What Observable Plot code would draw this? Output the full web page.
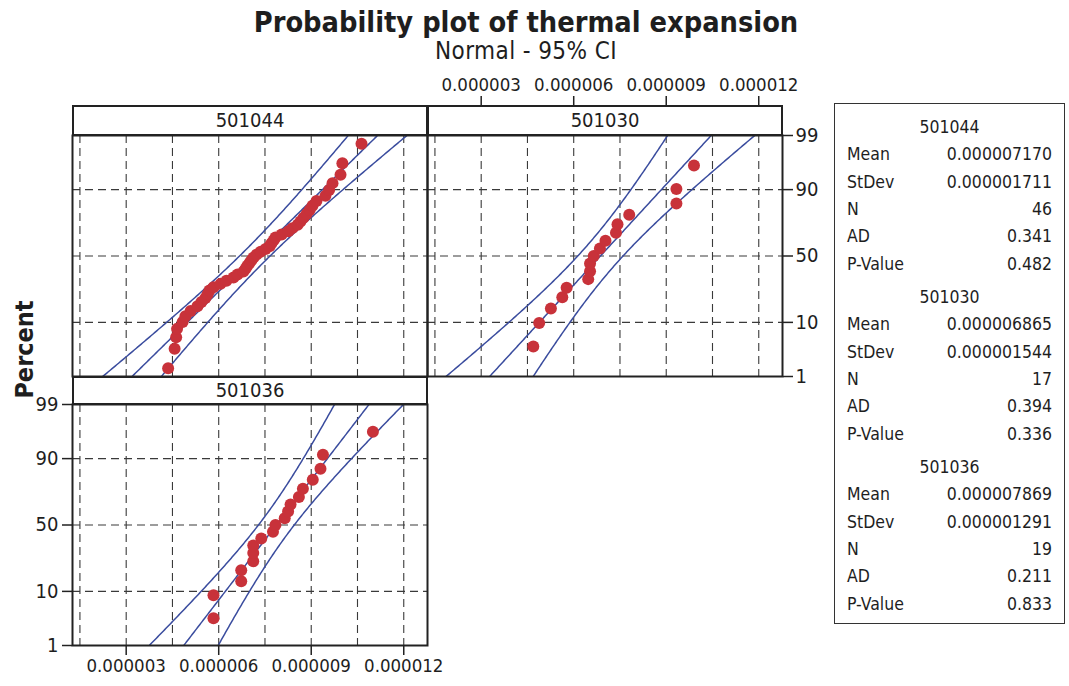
<!DOCTYPE html>
<html>
<head>
<meta charset="utf-8">
<script src="https://cdn.jsdelivr.net/npm/d3@7"></script>
<script src="https://cdn.jsdelivr.net/npm/@observablehq/plot@0.6"></script>
<style>
  body { margin: 0; background: #fff; }
  #chart {
    position: relative; width: 1069px; height: 686px; overflow: hidden;
    font-family: "DejaVu Sans Condensed", "DejaVu Sans", sans-serif;
    font-stretch: condensed; color: #1e1e1e;
  }
  #chart svg { position: absolute; overflow: visible; }
  .title { position: absolute; left: 0; width: 1052px; text-align: center; white-space: nowrap; }
  .strip {
    position: absolute; box-sizing: border-box; border: 2px solid #222; background: #fff;
    font-size: 20px; text-align: center;
  }
  .legend { position: absolute; box-sizing: border-box; border: 1.5px solid #333; background: #fff; }
  .lg { position: absolute; font-size: 17.5px; line-height: 20px; white-space: nowrap; }
</style>
</head>
<body>
<div id="chart"></div>
<script>
// Thermal expansion samples, in units of 1e-6, sorted ascending
const groups = ["501044", "501030", "501036"];
const expansion501044 = [
  4.36, 4.57, 4.62, 4.65, 4.83, 4.92, 5.09, 5.31, 5.44, 5.57,
  5.64, 5.70, 5.83, 6.06, 6.25, 6.48, 6.61, 6.80, 6.87, 6.93,
  7.00, 7.06, 7.13, 7.23, 7.36, 7.52, 7.65, 7.71, 7.78, 7.84,
  8.04, 8.26, 8.39, 8.56, 8.65, 8.75, 8.85, 8.95, 9.04, 9.17,
  9.46, 9.58, 9.69, 9.95, 10.01, 10.63
];
const expansion501030 = [
  4.69, 4.88, 5.26, 5.63, 5.77, 6.47, 6.53, 6.53, 6.65, 6.85,
  7.03, 7.37, 7.42, 7.80, 9.33, 9.33, 9.90
];
const expansion501036 = [
  5.83, 5.83, 6.73, 6.73, 7.12, 7.12, 7.12, 7.38, 7.76, 7.84,
  8.14, 8.25, 8.33, 8.60, 8.73, 9.05, 9.30, 9.38, 11.00
];

// Summary statistics (mean and stdev in units of 1e-6)
const means = [7.170, 6.865, 7.869];
const stdevs = [1.711, 1.544, 1.291];
const counts = [46, 17, 19];
const adStats = [0.341, 0.394, 0.211];
const pValues = [0.482, 0.336, 0.833];

// Axis ticks and grid
const percentTicks = [1, 10, 50, 90, 99];
const percentGrid = [10, 50, 90];
const xTickValues = [3, 6, 9, 12];
const xGridValues = [1.5, 3, 4.5, 6, 7.5, 9, 10.5, 12];
const xDomain = [1.259, 12.77];

// Inverse standard normal CDF (Acklam's rational approximation)
function qnorm(p) {
  const a = [-3.969683028665376e+01, 2.209460984245205e+02, -2.759285104469687e+02, 1.383577518672690e+02, -3.066479806614716e+01, 2.506628277459239e+00];
  const b = [-5.447609879822406e+01, 1.615858368580409e+02, -1.556989798598866e+02, 6.680131188771972e+01, -1.328068155288572e+01];
  const c = [-7.784894002430293e-03, -3.223964580411365e-01, -2.400758277161838e+00, -2.549732539343734e+00, 4.374664141464968e+00, 2.938163982698783e+00];
  const d = [7.784695709041462e-03, 3.224671290700398e-01, 2.445134137142996e+00, 3.754408661907416e+00];
  const pl = 0.02425;
  if (p < pl) {
    const q = Math.sqrt(-2 * Math.log(p));
    return (((((c[0]*q+c[1])*q+c[2])*q+c[3])*q+c[4])*q+c[5]) / ((((d[0]*q+d[1])*q+d[2])*q+d[3])*q+1);
  }
  if (p > 1 - pl) {
    const q = Math.sqrt(-2 * Math.log(1 - p));
    return -(((((c[0]*q+c[1])*q+c[2])*q+c[3])*q+c[4])*q+c[5]) / ((((d[0]*q+d[1])*q+d[2])*q+d[3])*q+1);
  }
  const q = p - 0.5, r = q * q;
  return (((((a[0]*r+a[1])*r+a[2])*r+a[3])*r+a[4])*r+a[5])*q / (((((b[0]*r+b[1])*r+b[2])*r+b[3])*r+b[4])*r+1);
}

const zLo = qnorm(0.01), zHi = qnorm(0.99);
const fmtX = v => (v * 1e-6).toFixed(6);
const fmtPct = z => String(percentTicks.find(p => Math.abs(qnorm(p / 100) - z) < 1e-9));

// Median-rank plotting positions
function points(values) {
  const n = values.length;
  return values.map((v, i) => ({x: v, z: qnorm((i + 1 - 0.3) / (n + 0.4))}));
}

// Fitted line and 95% confidence bounds from mean and stdev
function bands(mean, sd, n) {
  const rows = [];
  const zc = 1.959964;
  for (let k = -150; k <= 150; k++) {
    const z = k / 50;
    const mid = mean + sd * z;
    const half = zc * sd * Math.sqrt(1 / n + (z * z) / (2 * n));
    rows.push({z, x: mid - half, band: "lower"});
    rows.push({z, x: mid, band: "fit"});
    rows.push({z, x: mid + half, band: "upper"});
  }
  return rows;
}

const PW = 355, PH = 241;
const FONT = '"DejaVu Sans Condensed", "DejaVu Sans", sans-serif';
const gridStyle = {stroke: "#3a3a3a", strokeWidth: 1.1, strokeDasharray: "8,5"};
const lineColor = "#3a4c9e";
const dotColor = "#c8323a";
const axisStyle = {stroke: "#222", fill: "#1e1e1e", strokeWidth: 1.5, label: null};

function panel(gi, {ml = 2, mr = 2, mt = 2, mb = 2, left = false, right = false, bottom = false} = {}) {
  const values = [expansion501044, expansion501030, expansion501036][gi];
  const marks = [
    Plot.ruleX(xGridValues, {x: d => d, ...gridStyle}),
    Plot.ruleY(percentGrid, {y: p => qnorm(p / 100), ...gridStyle}),
    Plot.line(bands(means[gi], stdevs[gi], counts[gi]), {x: "x", y: "z", z: "band", stroke: lineColor, strokeWidth: 1.5, clip: true}),
    Plot.dot(points(values), {x: "x", y: "z", r: 6, fill: dotColor}),
    Plot.frame({stroke: "#222", strokeWidth: 2})
  ];
  const yTicks = percentTicks.map(p => qnorm(p / 100));
  if (left) marks.push(Plot.axisY(yTicks, {anchor: "left", tickSize: 10, tickPadding: 4, tickFormat: fmtPct, fontSize: 20, ...axisStyle}));
  if (right) marks.push(Plot.axisY(yTicks, {anchor: "right", tickSize: 10, tickPadding: 3, tickFormat: fmtPct, fontSize: 20, ...axisStyle}));
  if (bottom) marks.push(Plot.axisX(xTickValues, {anchor: "bottom", tickSize: 10, tickPadding: 3, tickFormat: fmtX, fontSize: 18.5, ...axisStyle}));
  return Plot.plot({
    width: PW + ml + mr, height: PH + mt + mb,
    marginLeft: ml, marginRight: mr, marginTop: mt, marginBottom: mb,
    x: {domain: xDomain, axis: null},
    y: {domain: [zLo, zHi], axis: null},
    style: {fontFamily: FONT, background: "transparent", overflow: "visible"},
    marks
  });
}

const chart = document.getElementById("chart");
function place(node, left, top) {
  node.style.left = left + "px";
  node.style.top = top + "px";
  chart.appendChild(node);
}
function div(cls, text, css) {
  const el = document.createElement("div");
  el.className = cls;
  el.textContent = text;
  Object.assign(el.style, css);
  chart.appendChild(el);
  return el;
}

// Titles
div("title", "Probability plot of thermal expansion", {top: "5px", fontSize: "28.7px", fontWeight: "bold"});
div("title", "Normal - 95% CI", {top: "37px", fontSize: "24px", letterSpacing: "0.4px"});

// Panels: plot areas at (72,135), (427,135), (72,404)
place(panel(0), 70, 133);
place(panel(1, {mr: 45, right: true}), 425, 133);
place(panel(2, {ml: 72, mb: 40, left: true, bottom: true}), 0, 402);

// Top axis above the 501030 strip
const topAxis = Plot.plot({
  width: PW + 4, height: 32, marginLeft: 2, marginRight: 2, marginTop: 31, marginBottom: 0,
  x: {domain: xDomain, axis: null},
  style: {fontFamily: FONT, background: "transparent", overflow: "visible"},
  marks: [Plot.axisX(xTickValues, {anchor: "top", tickSize: 10, tickPadding: 5, tickFormat: fmtX, fontSize: 18.5, ...axisStyle})]
});
place(topAxis, 425, 74);

// Strip headers
div("strip", groups[0], {left: "72px", top: "105px", width: "356px", height: "31px", lineHeight: "27px"});
div("strip", groups[1], {left: "427px", top: "105px", width: "356px", height: "31px", lineHeight: "27px"});
div("strip", groups[2], {left: "72px", top: "376px", width: "356px", height: "29px", lineHeight: "25px"});

// Y axis title
div("title", "Percent", {left: "-26px", width: "100px", top: "335px", fontSize: "25px", fontWeight: "bold", transform: "rotate(-90deg)"});

// Statistics box
div("legend", "", {left: "834px", top: "103px", width: "231px", height: "521px"});
const rowLabels = ["Mean", "StDev", "N", "AD", "P-Value"];
groups.forEach((g, gi) => {
  const cy = 127 + gi * 170;
  div("lg", g, {left: "834px", width: "231px", textAlign: "center", top: (cy - 10) + "px"});
  const vals = [
    (means[gi] * 1e-6).toFixed(9),
    (stdevs[gi] * 1e-6).toFixed(9),
    String(counts[gi]),
    adStats[gi].toFixed(3),
    pValues[gi].toFixed(3)
  ];
  rowLabels.forEach((lab, k) => {
    const y = cy + 27.3 * (k + 1) - 10;
    div("lg", lab, {left: "847px", top: y + "px"});
    div("lg", vals[k], {left: "900px", width: "152px", textAlign: "right", top: y + "px"});
  });
});
</script>
</body>
</html>
